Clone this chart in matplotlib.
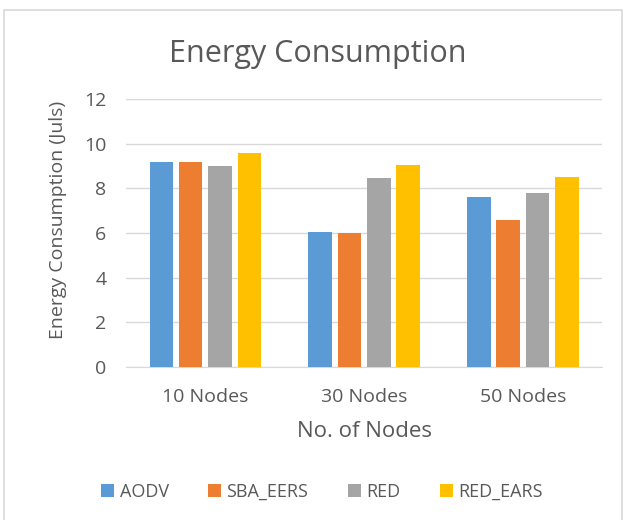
import matplotlib
matplotlib.use("Agg")
import matplotlib.pyplot as plt
import numpy as np
from matplotlib.patches import Rectangle

plt.rcParams["font.family"] = ["Open Sans", "DejaVu Sans"]

# data
categories = ["10 Nodes", "30 Nodes", "50 Nodes"]
series = ["AODV", "SBA_EERS", "RED", "RED_EARS"]
aodv = [9.18, 6.04, 7.60]
sba_eers = [9.18, 6.00, 6.56]
red = [8.99, 8.46, 7.77]
red_ears = [9.58, 9.03, 8.51]
colors = ["#5B9BD5", "#ED7D31", "#A5A5A5", "#FFC000"]
yticks = [0, 2, 4, 6, 8, 10, 12]

text_color = "#595959"
grid_color = "#D9D9D9"

fig = plt.figure(figsize=(6.24, 5.2), dpi=100)
fig.patches.append(Rectangle((0.006, -0.01), 0.99, 0.99, transform=fig.transFigure,
                             fill=False, edgecolor=grid_color, linewidth=1.2))

ax = fig.add_axes([0.202, 0.294, 0.763, 0.516])
x = np.arange(len(categories))
step, width = 0.185, 0.148
for i, (name, vals) in enumerate(zip(series, [aodv, sba_eers, red, red_ears])):
    ax.bar(x + (i - 1.5) * step, vals, width, color=colors[i], label=name, zorder=3)

ax.set_xlim(-0.5, 2.5)
ax.set_ylim(0, 12)
ax.set_yticks(yticks)
ax.set_xticks(x)
ax.set_xticklabels(categories)
ax.tick_params(length=0, labelsize=14, colors=text_color)
ax.tick_params(axis="x", pad=15)
ax.tick_params(axis="y", pad=14)
ax.yaxis.grid(True, color=grid_color, linewidth=1, zorder=0)
for s in ["top", "right", "left"]:
    ax.spines[s].set_visible(False)
ax.spines["bottom"].set_color(grid_color)

ax.set_xlabel("No. of Nodes", fontsize=16, color=text_color, va="center")
ax.xaxis.set_label_coords(0.5, -0.24)
ax.set_ylabel("Energy Consumption (Juls)", fontsize=14, color=text_color, va="center")
ax.yaxis.set_label_coords(-0.143, 0.55)
fig.text(0.51, 0.897, "Energy Consumption", ha="center", va="center", fontsize=22, color=text_color)

fig.legend(loc="center", bbox_to_anchor=(0.516, 0.054), ncol=4, frameon=False,
           fontsize=13, labelcolor=text_color, handlelength=0.7, handleheight=0.7,
           handletextpad=0.3, columnspacing=2.2)

plt.savefig("out.png", dpi=100, facecolor="white")
plt.close()
